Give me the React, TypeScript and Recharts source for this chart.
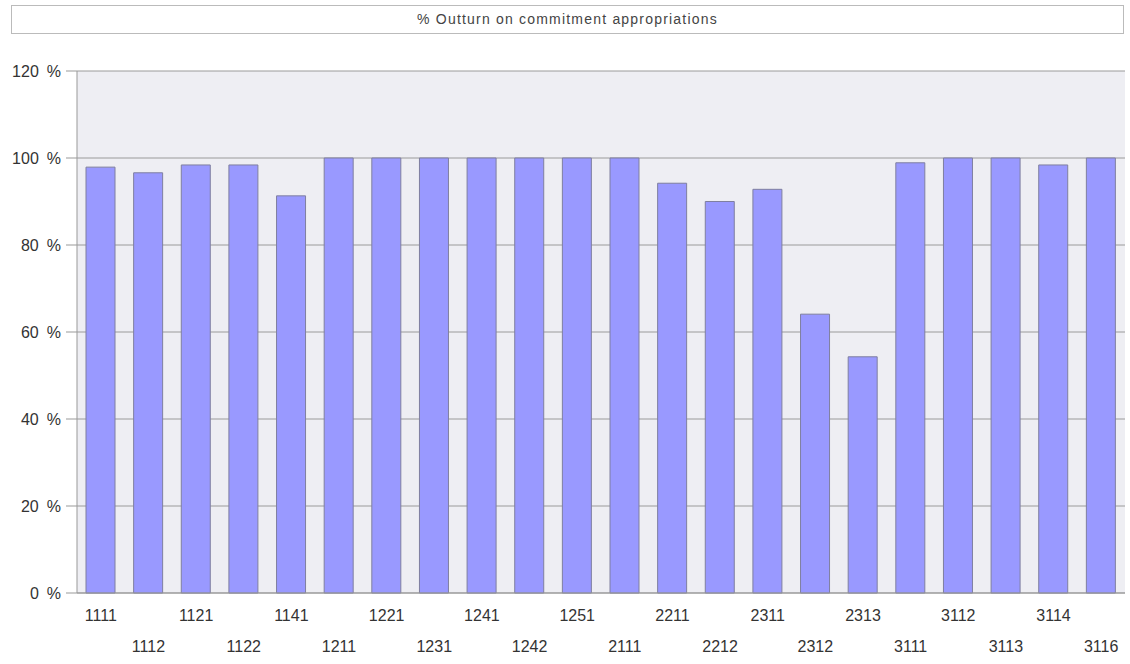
import { BarChart, Bar, XAxis, YAxis, CartesianGrid } from "recharts";

const codes = [
  "1111", "1112", "1121", "1122", "1141", "1211", "1221", "1231", "1241", "1242", "1251",
  "2111", "2211", "2212", "2311", "2312", "2313", "3111", "3112", "3113", "3114", "3116",
];
const outturn = [
  97.9, 96.6, 98.4, 98.4, 91.3, 100, 100, 100, 100, 100, 100,
  100, 94.2, 90.0, 92.8, 64.1, 54.3, 98.9, 100, 100, 98.4, 100,
];
const yTicks = [0, 20, 40, 60, 80, 100, 120];

const data = codes.map((code, i) => ({ code, value: outturn[i] }));

const FONT = "'Liberation Sans', Arial, sans-serif";

// labels alternate between two rows so they don't collide
function StaggeredTick(props: any) {
  const { x, y, payload, index } = props;
  const row = index % 2 === 0 ? 0 : 1;
  return (
    <text
      x={x}
      y={y + 20 + row * 31}
      textAnchor="middle"
      fontSize={16}
      fontFamily={FONT}
      fill="#333"
    >
      {payload.value}
    </text>
  );
}

export default function App() {
  return (
    <div style={{ position: "absolute", left: 0, top: 0, width: 1130, height: 664, background: "#fff" }}>
      <div
        style={{
          position: "absolute",
          left: 11,
          top: 5,
          width: 1111,
          height: 27,
          border: "1px solid #bbb",
          fontFamily: FONT,
          fontSize: 14,
          letterSpacing: 1.2,
          color: "#444",
          textAlign: "center",
          lineHeight: "27px",
        }}
      >
        % Outturn on commitment appropriations
      </div>
      <BarChart
        width={1130}
        height={664}
        data={data}
        margin={{ top: 71, right: 5, bottom: 0, left: 0 }}
        barSize={29}
      >
        <CartesianGrid vertical={false} stroke="#9a9a9a" fill="#eeeef3" />
        <XAxis
          dataKey="code"
          interval={0}
          height={71}
          tickLine={false}
          axisLine={{ stroke: "#999" }}
          tick={<StaggeredTick />}
        />
        <YAxis
          domain={[0, 120]}
          ticks={yTicks}
          width={77}
          tickSize={11}
          tickMargin={5}
          tickLine={{ stroke: "#999" }}
          axisLine={{ stroke: "#999" }}
          tickFormatter={(v: number) => `${v}\u2002%`}
          tick={{ fontSize: 16, fontFamily: FONT, fill: "#333" }}
        />
        <Bar dataKey="value" fill="#9999ff" stroke="#7f7f9f" strokeWidth={1} isAnimationActive={false} />
      </BarChart>
    </div>
  );
}
